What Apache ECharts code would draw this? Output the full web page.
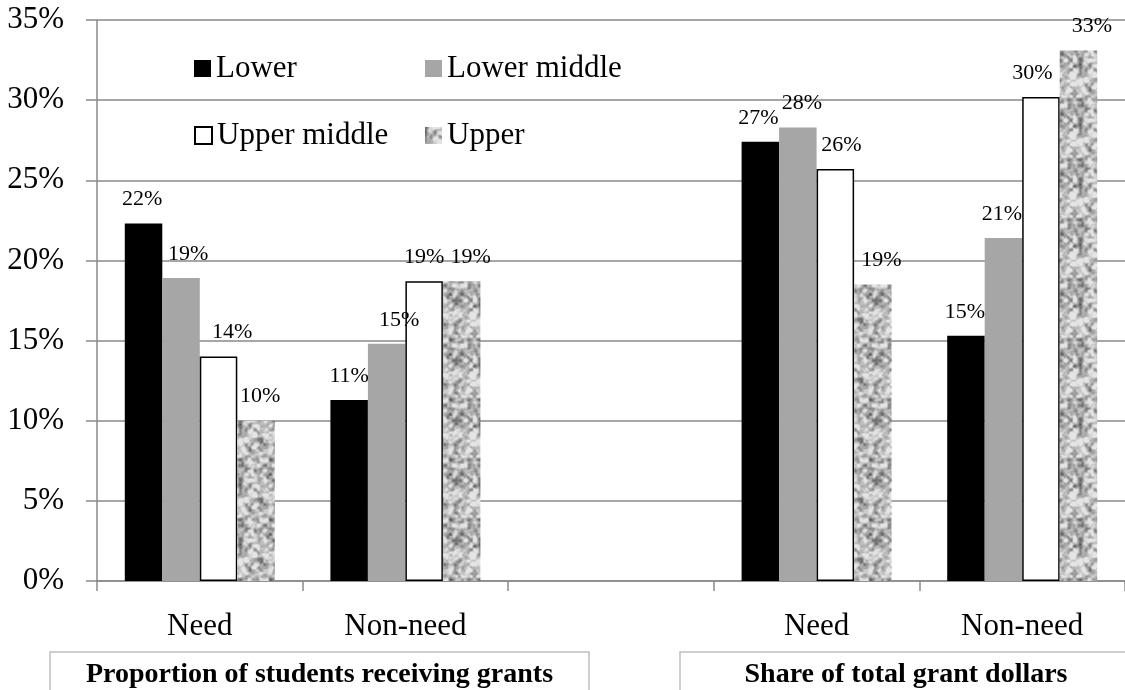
<!DOCTYPE html>
<html>
<head>
<meta charset="utf-8">
<style>
  html, body { margin: 0; padding: 0; background: #fff; }
  #chart { width: 1125px; height: 690px; }
</style>
<script src="https://cdn.jsdelivr.net/npm/echarts@6/dist/echarts.min.js"></script>
</head>
<body>
<div id="chart"></div>
<script>
// Categories along the x axis (the blank slot separates the two panels)
const categories = ['Need', 'Non-need', '', 'Need', 'Non-need'];

// Percent values per income group
const lower       = [22.3, 11.3, null, 27.4, 15.3];
const lowerMiddle = [18.9, 14.8, null, 28.3, 21.4];
const upperMiddle = [14.0, 18.7, null, 25.7, 30.2];
const upper       = [10.0, 18.7, null, 18.5, 33.1];

const seriesNames = ['Lower', 'Lower middle', 'Upper middle', 'Upper'];
const panelTitles = ['Proportion of students receiving grants', 'Share of total grant dollars'];

// y axis range
const yMin = 0, yMax = 35, yStep = 5;

// Horizontal nudges of the value labels (px), per series and category
const labelNudge = [
  [-1.5, 0, 0, -2, -1],
  [7, 12.5, 0, 4, -1.5],
  [13.5, 0, 0, 6, -8.5],
  [4, 9, 0, 8.5, 13.5]
];

const FONT = "'Liberation Serif', 'Times New Roman', serif";
const GRID_GRAY = '#8a8a8a';

// Speckled granite-like fill for the "Upper" bars (deterministic hash noise)
function makeGraniteTile() {
  const size = 60;
  const c = document.createElement('canvas');
  c.width = size; c.height = size;
  const ctx = c.getContext('2d');
  const img = ctx.createImageData(size, size);
  function hash(x, y, s) {
    let h = (x * 374761393 + y * 668265263 + s * 2147483647) | 0;
    h = Math.imul(h ^ (h >>> 13), 1274126177);
    h = h ^ (h >>> 16);
    return (h >>> 0) / 4294967296;
  }
  function smooth(t) { return t * t * (3 - 2 * t); }
  function noise(x, y, cell, seed) {
    const n = size / cell;
    const gx = x / cell, gy = y / cell;
    const x0 = Math.floor(gx), y0 = Math.floor(gy);
    const fx = smooth(gx - x0), fy = smooth(gy - y0);
    const a = hash(x0 % n, y0 % n, seed);
    const b = hash((x0 + 1) % n, y0 % n, seed);
    const cc = hash(x0 % n, (y0 + 1) % n, seed);
    const d = hash((x0 + 1) % n, (y0 + 1) % n, seed);
    return (a * (1 - fx) + b * fx) * (1 - fy) + (cc * (1 - fx) + d * fx) * fy;
  }
  for (let y = 0; y < size; y++) {
    for (let x = 0; x < size; x++) {
      const v = 0.5 * noise(x, y, 5, 1) + 0.35 * noise(x, y, 3, 2) + 0.15 * noise(x, y, 2, 3);
      let g = 182 + (v - 0.5) * 250;
      g = Math.max(85, Math.min(228, g));
      const i = (y * size + x) * 4;
      img.data[i] = img.data[i + 1] = img.data[i + 2] = g;
      img.data[i + 3] = 255;
    }
  }
  ctx.putImageData(img, 0, 0);
  return c;
}

const granite = { image: makeGraniteTile(), repeat: 'repeat' };

const styles = [
  { color: '#000000' },
  { color: '#a6a6a6' },
  { color: '#ffffff', borderColor: '#000000', borderWidth: 1.5 },
  { color: granite }
];
const valueSets = [lower, lowerMiddle, upperMiddle, upper];

const series = seriesNames.map((name, s) => ({
  name: name,
  type: 'bar',
  barWidth: 37.5,
  barGap: '0%',
  itemStyle: styles[s],
  label: {
    show: true,
    position: 'top',
    distance: 13,
    fontFamily: FONT,
    fontSize: 22,
    color: '#000',
    formatter: p => (p.value == null ? '' : Math.round(p.value) + '%')
  },
  data: valueSets[s].map((v, i) => ({
    value: v,
    label: { offset: [labelNudge[s][i], 0] }
  }))
}));

// One legend block per entry, laid out as a 2x2 table
const legendSpots = [[194, 53], [425, 53], [194, 120], [425, 120]];
const legends = seriesNames.map((name, i) => ({
  data: [name],
  left: legendSpots[i][0],
  top: legendSpots[i][1],
  icon: 'rect',
  itemWidth: 17,
  itemHeight: 17,
  padding: 0,
  selectedMode: false,
  textStyle: { fontFamily: FONT, fontSize: 31, color: '#000', lineHeight: 31 }
}));

const chart = echarts.init(document.getElementById('chart'), null, { renderer: 'canvas' });

chart.setOption({
  animation: false,
  backgroundColor: '#fff',
  legend: legends,
  grid: { left: 97, right: 0, top: 20, bottom: 109, containLabel: false },
  xAxis: {
    type: 'category',
    data: categories,
    boundaryGap: true,
    axisLine: { show: true, lineStyle: { color: GRID_GRAY, width: 1.5 } },
    axisTick: { show: true, length: 10, alignWithLabel: false, lineStyle: { color: GRID_GRAY, width: 1.5 } },
    axisLabel: { fontFamily: FONT, fontSize: 31, color: '#000', margin: 30, interval: 0 }
  },
  yAxis: {
    type: 'value',
    min: yMin,
    max: yMax,
    interval: yStep,
    axisLine: { show: true, lineStyle: { color: GRID_GRAY, width: 1.5 } },
    axisTick: { show: true, length: 11, lineStyle: { color: GRID_GRAY, width: 1.5 } },
    splitLine: { show: true, lineStyle: { color: GRID_GRAY, width: 1.5 } },
    axisLabel: { fontFamily: FONT, fontSize: 31, color: '#000', margin: 33, formatter: '{value}%' }
  },
  graphic: [
    {
      type: 'rect', z: 10,
      shape: { x: 50, y: 652, width: 539, height: 60 },
      style: { fill: 'none', stroke: '#bfbfbf', lineWidth: 1.5 }
    },
    {
      type: 'text', z: 11,
      x: 319.5, y: 675,
      style: {
        text: panelTitles[0], fontFamily: FONT, fontSize: 28, fontWeight: 'bold',
        fill: '#000', align: 'center', verticalAlign: 'middle'
      }
    },
    {
      type: 'rect', z: 10,
      shape: { x: 680, y: 652, width: 480, height: 60 },
      style: { fill: 'none', stroke: '#bfbfbf', lineWidth: 1.5 }
    },
    {
      type: 'text', z: 11,
      x: 906, y: 675,
      style: {
        text: panelTitles[1], fontFamily: FONT, fontSize: 28, fontWeight: 'bold',
        fill: '#000', align: 'center', verticalAlign: 'middle'
      }
    }
  ],
  series: series
});
</script>
</body>
</html>
